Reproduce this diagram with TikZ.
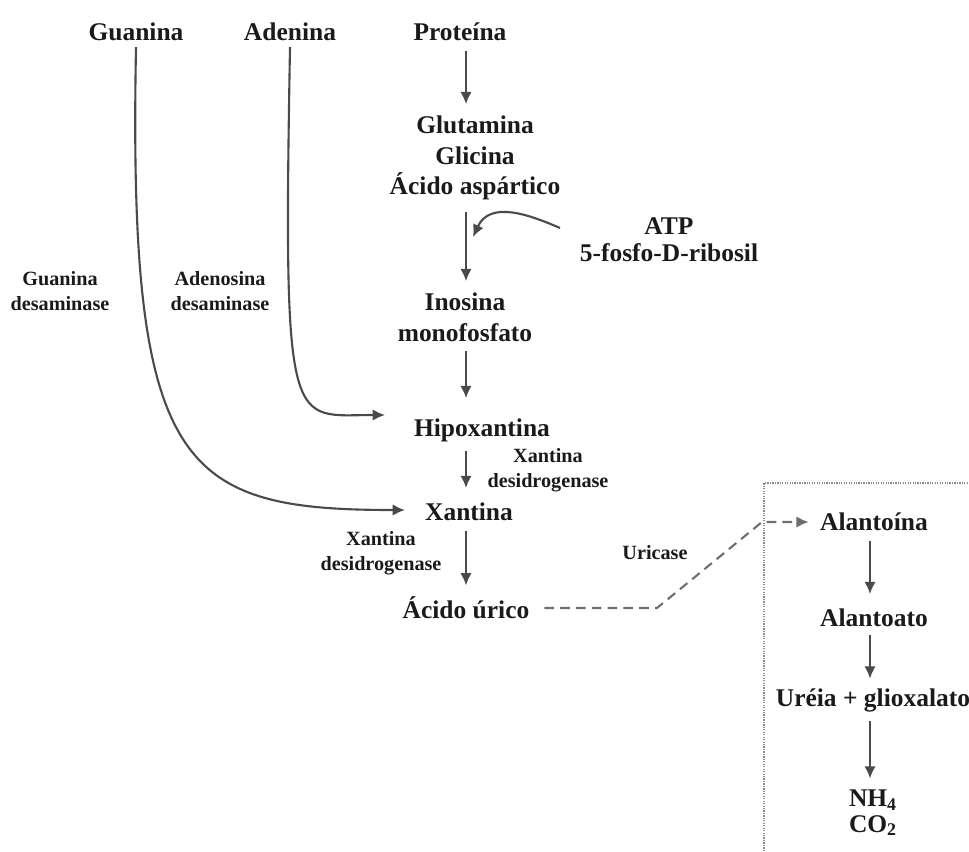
\documentclass[tikz,border=0pt]{standalone}
\usepackage{fontspec}
\setmainfont{Liberation Serif}
\usetikzlibrary{arrows.meta}
\definecolor{inkBlack}{HTML}{1A1A1A}
\definecolor{arrowGrey}{HTML}{4A4A4A}
\definecolor{dashGrey}{HTML}{6E6E6E}
\definecolor{boxGrey}{HTML}{8C8C8C}

\begin{document}
\begin{tikzpicture}[x=0.02cm, y=-0.02cm,
    big/.style={text=inkBlack, font=\bfseries\fontsize{14.5}{17.5}\selectfont, align=center},
    small/.style={text=inkBlack, font=\bfseries\fontsize{11.5}{14}\selectfont, align=center},
    arr/.style={draw=arrowGrey, line width=1.2pt, -{Latex[length=7pt,width=6.5pt]}},
    uric/.style={arr, draw=dashGrey, dash pattern=on 5.5pt off 3.5pt},
    dotbox/.style={draw=boxGrey, line width=0.9pt, dash pattern=on 0.7pt off 0.7pt}]
  \useasboundingbox (0,0) rectangle (969,851);
  % coluna central e coluna da caixa
  \coordinate (col) at (466,0);
  \coordinate (colB) at (870,0);

  \node[big] (guanina)  at (136,32)  {Guanina};
  \node[big] (adenina)  at (290,32)  {Adenina};
  \node[big] (proteina) at (460,32)  {Proteína};
  \node[big] (glut)     at (475,158) {Glutamina\\Glicina\\Ácido aspártico};
  \node[big] (atp)      at (669,240) {ATP\\[-2pt]5-fosfo-D-ribosil};
  \node[big] (inosina)  at (465,317) {Inosina\\monofosfato};
  \node[big] (hipox)    at (482,430) {Hipoxantina};
  \node[big] (xantina)  at (469,512) {Xantina};
  \node[big] (acido)    at (466,608) {Ácido úrico};

  \node[small] (guanDes) at (60,291)  {Guanina\\desaminase};
  \node[small] (adenDes) at (220,291) {Adenosina\\desaminase};
  \node[small] (xdA)     at (548,470) {Xantina\\desidrogenase};
  \node[small] (xdB)     at (381,553) {Xantina\\desidrogenase};
  \node[small] (uricase) at (655,553) {Uricase};

  \node[big] (alantoina) at (874,522) {Alantoína};
  \node[big] (alantoato) at (874,618) {Alantoato};
  \node[big] (ureia)     at (873,700) {Uréia + glioxalato};
  \node[big] (nh)        at (873,813) {NH\textsubscript{4}\\[-3pt]CO\textsubscript{2}};

  \draw[arr, shorten <=2pt, shorten >=3pt] (proteina.south -| col) -- (glut.north -| col);
  \draw[arr, shorten <=3pt, shorten >=3pt] (glut.south -| col) -- (inosina.north -| col);
  \draw[arr, shorten <=2pt, shorten >=8pt] (inosina.south -| col) -- (hipox.north -| col);
  \draw[arr, shorten <=2pt, shorten >=5pt] (hipox.south -| col) -- (xantina.north -| col);
  \draw[arr, shorten <=2pt, shorten >=3pt] (xantina.south -| col) -- (acido.north -| col);

  \coordinate (atpEnd) at (560,228);
  \coordinate (atpTip) at (473,237);
  \draw[arr] (atpEnd) .. controls (530,215) and (490,200) .. (atpTip);

  \coordinate (adenIn) at (385,415);
  \coordinate (guanIn) at (405,510);
  \draw[arr] (adenina.south) .. controls (283,440) and (290,415) .. (adenIn);
  \draw[arr] (guanina.south) .. controls (128,470) and (180,510) .. (guanIn);

  \coordinate (uA) at (657,608);
  \coordinate (uB) at (762,522);
  \draw[uric, shorten <=5pt, shorten >=3pt] (acido.east) -- (uA) -- (uB) -- (alantoina.west);

  \draw[dotbox] (764,851) -- (764,483) -- (969,483);

  \draw[arr, shorten <=2pt, shorten >=5pt] (alantoina.south -| colB) -- (alantoato.north -| colB);
  \draw[arr, shorten <=1pt, shorten >=2pt] (alantoato.south -| colB) -- (ureia.north -| colB);
  \draw[arr, shorten <=2pt, shorten >=3pt] (ureia.south -| colB) -- (nh.north -| colB);
\end{tikzpicture}
\end{document}
